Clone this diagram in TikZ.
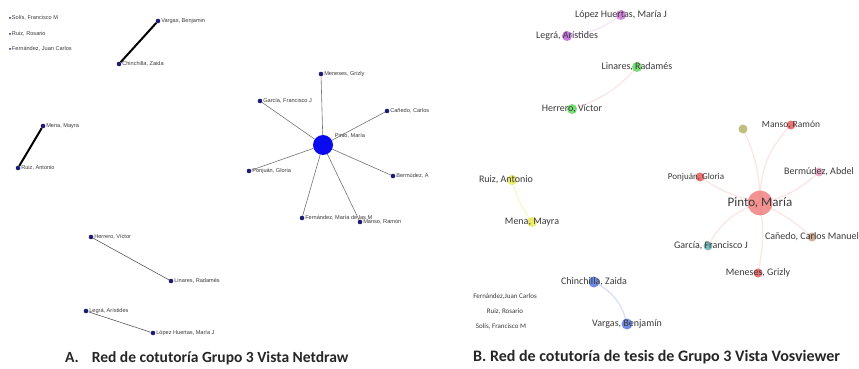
\documentclass[tikz,border=0pt]{standalone}
\usepackage{fontspec}
\setmainfont{Carlito}
\newfontfamily\arialf{Liberation Sans}
\definecolor{navy}{HTML}{1C1C78}
\definecolor{hubblue}{HTML}{0A0AF0}
\definecolor{cMag}{HTML}{D070D8}
\definecolor{cGreen}{HTML}{60D860}
\definecolor{cRed}{HTML}{E85A5A}
\definecolor{cPinto}{HTML}{F07878}
\definecolor{cOlive}{HTML}{B4B46A}
\definecolor{cPink}{HTML}{E8A0C0}
\definecolor{cTan}{HTML}{C8A080}
\definecolor{cTeal}{HTML}{68B0B0}
\definecolor{cYellow}{HTML}{E8E658}
\definecolor{cBlue}{HTML}{5876E0}
\definecolor{labgray}{HTML}{3A3A3A}
\begin{document}
\begin{tikzpicture}[x=1pt,y=-1pt,
  ndot/.style={circle,fill=navy,inner sep=0pt,minimum size=4.6pt},
  sdot/.style={circle,fill=navy,inner sep=0pt,minimum size=2pt},
  nlab/.style={font=\arialf\fontsize{5.6}{6}\selectfont,text=labgray,inner sep=0.6pt},
  hubedge/.style={draw=black!55,line width=0.6pt},
  thinedge/.style={draw=black!65,line width=0.6pt},
  thickedge/.style={draw=black,line width=2pt},
  vdot/.style={circle,inner sep=0pt,minimum size=10pt,fill opacity=0.85},
  vlab/.style={font=\fontsize{10}{12}\selectfont,text=labgray,inner sep=0pt},
  vsmall/.style={font=\fontsize{7}{8}\selectfont,text=labgray,inner sep=0pt},
  vedge/.style={line width=1.3pt,draw opacity=0.9},
  caption/.style={font=\bfseries\fontsize{16}{18}\selectfont,text=black!85,inner sep=0pt,anchor=west}
]
\useasboundingbox (0,0) rectangle (859,369);

% ================= A. Netdraw =================
\node[sdot,label={[nlab]right:Solís, Francisco M}] (solA) at (10,18) {};
\node[sdot,label={[nlab]right:Ruiz, Rosario}] (rosA) at (10,34) {};
\node[sdot,label={[nlab]right:Fernández, Juan Carlos}] (fjcA) at (10,49) {};

\node[ndot,label={[nlab]right:Vargas, Benjamin}] (varA) at (158,21) {};
\node[ndot,label={[nlab]right:Chinchilla, Zaida}] (chinA) at (119,64) {};
\draw[thickedge] (chinA) -- (varA);

\node[ndot,label={[nlab]right:Mena, Mayra}] (menaA) at (43,126) {};
\node[ndot,label={[nlab]right:Ruiz, Antonio}] (ruizA) at (18,168) {};
\draw[thickedge] (ruizA) -- (menaA);

\node[circle,fill=hubblue,inner sep=0pt,minimum size=20pt] (pinA) at (323,145) {};
\node[nlab,anchor=west] (pinAlab) at (334,136) {Pinto, María};
\node[ndot,label={[nlab]right:Meneses, Grizly}] (menA) at (321,74) {};
\node[ndot,label={[nlab]right:García, Francisco J}] (garA) at (260,101) {};
\node[ndot,label={[nlab]right:Cañedo, Carlos}] (canA) at (387,111) {};
\node[ndot,label={[nlab]right:Ponjuán, Gloria}] (ponA) at (249,171) {};
\node[ndot,label={[nlab]right:Bermúdez, A}] (berA) at (393,176) {};
\node[ndot,label={[nlab]right:Fernández, María de las M}] (fmA) at (302,218) {};
\node[ndot,label={[nlab]right:Manso, Ramón}] (manA) at (360,222) {};
\foreach \t in {menA,garA,canA,ponA,berA,fmA,manA}
  \draw[hubedge] (pinA) -- (\t);

\node[ndot,label={[nlab]right:Herrero, Víctor}] (herA) at (91,237) {};
\node[ndot,label={[nlab]right:Linares, Radamés}] (linA) at (171,281) {};
\draw[thinedge] (herA) -- (linA);
\node[ndot,label={[nlab]right:Legrá, Arístides}] (legA) at (86,311) {};
\node[ndot,label={[nlab]right:López Huertas, María J}] (lopA) at (153,333) {};
\draw[thinedge] (legA) -- (lopA);

\node[caption,font=\bfseries\fontsize{15.5}{18}\selectfont] (capA) at (65,358) {A.\hspace{13pt}Red de cotutoría Grupo 3 Vista Netdraw};

% ================= B. VOSviewer =================
\coordinate (pinBc) at (760,203);
\coordinate (lopBc) at (621,15);
\coordinate (legBc) at (567,36);
\coordinate (linBc) at (637,67);
\coordinate (herBc) at (572,109);
\coordinate (olBc) at (743,129);
\coordinate (manBc) at (791,125);
\coordinate (ponBc) at (700,177);
\coordinate (berBc) at (819,172);
\coordinate (canBc) at (812,237);
\coordinate (garBc) at (708,246);
\coordinate (menBc) at (758,273);
\coordinate (ruizBc) at (512,180);
\coordinate (menaBc) at (532,222);
\coordinate (chinBc) at (594,282);
\coordinate (varBc) at (627,324);

\draw[vedge,draw=cMag!20] (lopBc) to[bend left=15] (legBc);
\draw[vedge,draw=cRed!17] (linBc) to[bend left=15] (herBc);
\draw[vedge,draw=cRed!17] (pinBc) to[bend right=12] (olBc);
\draw[vedge,draw=cRed!17] (pinBc) to[bend left=22] (manBc);
\draw[vedge,draw=cRed!17] (pinBc) to[bend left=10] (ponBc);
\draw[vedge,draw=cRed!17] (pinBc) to[bend right=15] (berBc);
\draw[vedge,draw=cRed!17] (pinBc) to[bend left=8] (canBc);
\draw[vedge,draw=cRed!17] (pinBc) to[bend right=22] (garBc);
\draw[vedge,draw=cRed!17] (pinBc) to[bend left=10] (menBc);
\draw[vedge,draw=cYellow!35] (ruizBc) to[bend right=10] (menaBc);
\draw[vedge,draw=cBlue!25] (chinBc) to[bend left=25] (varBc);

\node[vdot,fill=cMag] (lopB) at (lopBc) {};
\node[vlab] (lopBl) at (lopB) {López Huertas, María J};
\node[vdot,fill=cMag!90!blue] (legB) at (legBc) {};
\node[vlab] (legBl) at (legB) {Legrá, Arístides};
\node[vdot,fill=cGreen] (linB) at (linBc) {};
\node[vlab] (linBl) at (linB) {Linares, Radamés};
\node[vdot,fill=cGreen] (herB) at (herBc) {};
\node[vlab] (herBl) at (herB) {Herrero, Víctor};

\node[vdot,fill=cPinto,minimum size=25pt,fill opacity=0.8] (pinB) at (pinBc) {};
\node[vlab,font=\fontsize{13}{15}\selectfont] (pinBl) at (pinB) {Pinto, María};
\node[vdot,fill=cOlive,minimum size=9pt] (olB) at (olBc) {};
\node[vdot,fill=cRed,minimum size=9pt] (manB) at (manBc) {};
\node[vlab,font=\fontsize{9.5}{11}\selectfont] (manBl) at (manB) {Manso, Ramón};
\node[vdot,fill=cRed,minimum size=9pt] (ponB) at (ponBc) {};
\node[vlab,font=\fontsize{9}{11}\selectfont,xshift=-4pt] (ponBl) at (ponB) {Ponjuán, Gloria};
\node[vdot,fill=cPink,minimum size=9pt] (berB) at (berBc) {};
\node[vlab] (berBl) at (berB) {Bermúdez, Abdel};
\node[vdot,fill=cTan,minimum size=9pt] (canB) at (canBc) {};
\node[vlab] (canBl) at (canB) {Cañedo, Carlos Manuel};
\node[vdot,fill=cTeal,minimum size=9pt] (garB) at (garBc) {};
\node[vlab,xshift=3pt] (garBl) at (garB) {García, Francisco J};
\node[vdot,fill=cRed,minimum size=9pt] (menB) at (menBc) {};
\node[vlab] (menBl) at (menB) {Meneses, Grizly};

\node[vdot,fill=cYellow] (ruizB) at (ruizBc) {};
\node[vlab,xshift=-6pt] (ruizBl) at (ruizB) {Ruiz, Antonio};
\node[vdot,fill=cYellow] (menaB) at (menaBc) {};
\node[vlab] (menaBl) at (menaB) {Mena, Mayra};
\node[vdot,fill=cBlue,minimum size=11pt] (chinB) at (chinBc) {};
\node[vlab] (chinBl) at (chinB) {Chinchilla, Zaida};
\node[vdot,fill=cBlue,minimum size=11pt] (varB) at (varBc) {};
\node[vlab] (varBl) at (varB) {Vargas, Benjamín};

\node[vsmall] (fjcB) at (505,297) {Fernández,Juan Carlos};
\node[vsmall] (rosB) at (505,312) {Ruiz, Rosario};
\node[vsmall] (solB) at (501,327) {Solís, Francisco M};

\node[caption] (capB) at (473,357) {B. Red de cotutoría de tesis de Grupo 3 Vista Vosviewer};
\end{tikzpicture}
\end{document}
